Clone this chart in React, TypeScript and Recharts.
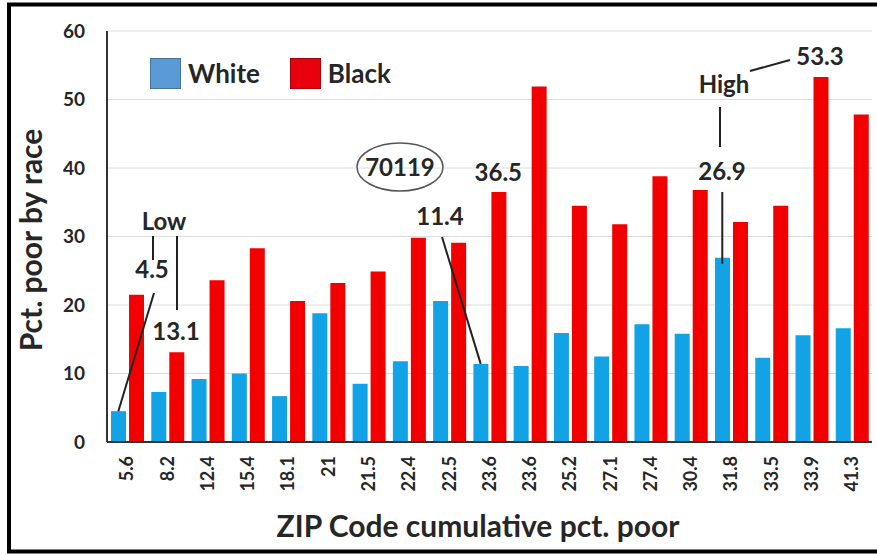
import React from "react";
import {
  BarChart,
  Bar,
  XAxis,
  YAxis,
  CartesianGrid,
} from "recharts";

// ZIP code cumulative pct. poor (x categories, note the repeated 23.6)
const zipPctPoor = [
  "5.6", "8.2", "12.4", "15.4", "18.1", "21", "21.5", "22.4", "22.5", "23.6",
  "23.6", "25.2", "27.1", "27.4", "30.4", "31.8", "33.5", "33.9", "41.3",
];

const whitePoor = [
  4.5, 7.3, 9.2, 10.0, 6.7, 18.8, 8.5, 11.8, 20.6, 11.4,
  11.1, 15.9, 12.5, 17.2, 15.8, 26.9, 12.3, 15.6, 16.6,
];

const blackPoor = [
  21.5, 13.1, 23.6, 28.3, 20.6, 23.2, 24.9, 29.8, 29.1, 36.5,
  51.9, 34.5, 31.8, 38.8, 36.8, 32.1, 34.5, 53.3, 47.8,
];

const yTicks = [0, 10, 20, 30, 40, 50, 60];

const series = [
  { key: "white", name: "White", bar: "#12A3E6", swatch: "#5B9BD5" },
  { key: "black", name: "Black", bar: "#F20000", swatch: "#E8000D" },
];

const data = zipPctPoor.map((zip, i) => ({
  idx: i,
  zip,
  white: whitePoor[i],
  black: blackPoor[i],
}));

const FONT = "Lato, 'Open Sans', sans-serif";
const TEXT = "#262626";

// layout of the plot area, used for the callouts drawn on top
const W = 877;
const H = 556;
const PL = 107;
const PR = 872;
const PT = 31;
const PB = 442;
const BAND = (PR - PL) / zipPctPoor.length;
const CAT_GAP = BAND * 0.1;
const BAR_GAP = 3;
const BAR_W = (BAND - 2 * CAT_GAP - BAR_GAP) / 2;

const yPx = (v: number) => PB - (v / 60) * (PB - PT);
const whiteX = (i: number) => PL + i * BAND + CAT_GAP + BAR_W / 2;
const blackX = (i: number) => PL + i * BAND + CAT_GAP + BAR_W + BAR_GAP + BAR_W / 2;

const LegendBox = () => (
  <div
    style={{
      position: "absolute",
      left: 150,
      top: 57,
      display: "flex",
      alignItems: "center",
      fontFamily: FONT,
    }}
  >
    {series.map((s) => (
      <div key={s.key} style={{ display: "flex", alignItems: "center", marginRight: 30 }}>
        <div
          style={{
            width: 29,
            height: 29,
            background: s.swatch,
            border: "1px solid rgba(0,0,0,0.25)",
            marginRight: 7,
          }}
        />
        <span style={{ fontSize: 26, fontWeight: 700, color: TEXT }}>{s.name}</span>
      </div>
    ))}
  </div>
);

const XTick = ({ x, y, payload }: any) => (
  <text
    transform={`translate(${x}, ${y + 6}) rotate(-90)`}
    textAnchor="end"
    dy="0.35em"
    fontFamily={FONT}
    fontWeight={700}
    fontSize={18}
    fill={TEXT}
  >
    {zipPctPoor[payload.value]}
  </text>
);

const Note = ({ x, y, children }: any) => (
  <text
    x={x}
    y={y}
    textAnchor="middle"
    fontFamily={FONT}
    fontWeight={700}
    fontSize={24}
    fill={TEXT}
  >
    {children}
  </text>
);

const Callouts = () => (
  <svg
    width={W}
    height={H}
    style={{ position: "absolute", left: 0, top: 0, pointerEvents: "none" }}
  >
    <g stroke="#222" strokeWidth={2} fill="none">
      {/* Low */}
      <line x1={153} y1={236} x2={153} y2={260} />
      <line x1={177} y1={236} x2={177} y2={310} />
      <line x1={154} y1={293} x2={whiteX(0)} y2={yPx(whitePoor[0])} />
      {/* 70119 */}
      <line x1={442} y1={237} x2={whiteX(9)} y2={yPx(whitePoor[9])} />
      {/* High */}
      <line x1={720} y1={107} x2={720} y2={147} />
      <line x1={whiteX(15)} y1={192} x2={whiteX(15)} y2={yPx(whitePoor[15]) + 6} />
      <line x1={750} y1={71} x2={790} y2={60} />
      <ellipse cx={400} cy={167} rx={43} ry={24} stroke="#555" strokeWidth={1.5} />
    </g>
    <Note x={164} y={230}>Low</Note>
    <Note x={152} y={278}>{whitePoor[0]}</Note>
    <Note x={176} y={340}>{blackPoor[1]}</Note>
    <Note x={400} y={176}>70119</Note>
    <Note x={440} y={225}>{whitePoor[9]}</Note>
    <Note x={blackX(9)} y={yPx(blackPoor[9]) - 11}>{blackPoor[9]}</Note>
    <Note x={724} y={93}>High</Note>
    <Note x={722} y={180}>{whitePoor[15]}</Note>
    <Note x={820} y={65}>{blackPoor[17]}</Note>
    {/* axis titles */}
    <text
      x={478}
      y={537}
      textAnchor="middle"
      fontFamily={FONT}
      fontWeight={700}
      fontSize={30}
      fill={TEXT}
    >
      ZIP Code cumulative pct. poor
    </text>
    <text
      transform="translate(42, 240) rotate(-90)"
      textAnchor="middle"
      fontFamily={FONT}
      fontWeight={700}
      fontSize={30}
      fill={TEXT}
    >
      Pct. poor by race
    </text>
    {/* frame */}
    <rect x={9} y={4.5} width={900} height={547} fill="none" stroke="#000" strokeWidth={4} />
  </svg>
);

const App: React.FC = () => {
  return (
    <div
      style={{
        position: "absolute",
        left: 0,
        top: 0,
        width: W,
        height: H,
        background: "#fff",
        overflow: "hidden",
      }}
    >
      <BarChart
        width={W}
        height={H}
        data={data}
        margin={{ top: PT, right: W - PR, bottom: 0, left: 0 }}
        barCategoryGap="10%"
        barGap={BAR_GAP}
      >
        <CartesianGrid vertical={false} stroke="#dcdcdc" />
        <XAxis
          dataKey="idx"
          type="category"
          height={H - PB}
          interval={0}
          tickLine={false}
          axisLine={{ stroke: "#333", strokeWidth: 2 }}
          tick={<XTick />}
        />
        <YAxis
          width={PL}
          domain={[0, 60]}
          ticks={yTicks}
          interval={0}
          tickLine={false}
          tickMargin={16}
          axisLine={{ stroke: "#333", strokeWidth: 2 }}
          tick={{ fontFamily: FONT, fontWeight: 700, fontSize: 19, fill: TEXT }}
        />
        {series.map((s) => (
          <Bar
            key={s.key}
            dataKey={s.key}
            name={s.name}
            fill={s.bar}
            isAnimationActive={false}
          />
        ))}
      </BarChart>
      <LegendBox />
      <Callouts />
    </div>
  );
};

export default App;
